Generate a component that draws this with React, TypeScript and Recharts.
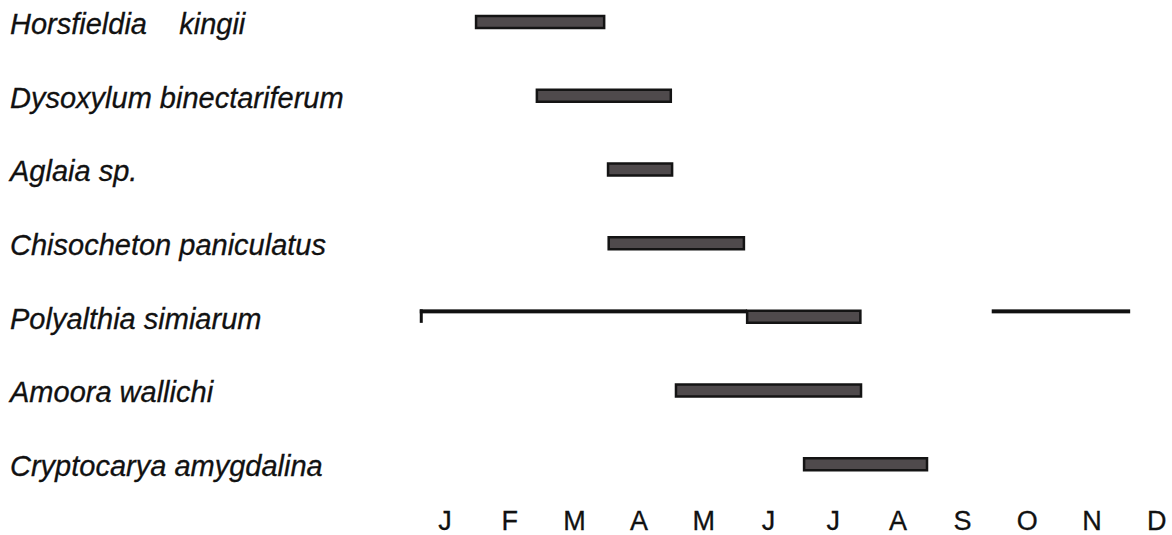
import React from "react";
import { BarChart, Bar, XAxis, YAxis } from "recharts";

const species = [
  "Horsfieldia    kingii",
  "Dysoxylum binectariferum",
  "Aglaia sp.",
  "Chisocheton paniculatus",
  "Polyalthia simiarum",
  "Amoora wallichi",
  "Cryptocarya amygdalina",
];
// month index: 0 = January centre ... 11 = December centre
const flowerStart = [0.48, 1.42, 2.52, 2.53, 4.67, 3.57, 5.55];
const flowerEnd = [2.46, 3.49, 3.51, 4.62, 6.42, 6.43, 7.45];
// thin line segments (Polyalthia simiarum only)
const line1Start: (number | null)[] = [null, null, null, null, -0.39, null, null];
const line1End: (number | null)[] = [null, null, null, null, 4.67, null, null];
const line2Start: (number | null)[] = [null, null, null, null, 8.45, null, null];
const line2End: (number | null)[] = [null, null, null, null, 10.59, null, null];
const monthLabels = ["J", "F", "M", "A", "M", "J", "J", "A", "S", "O", "N", "D"];
const monthTicks = monthLabels.map((_, i) => i);

const data = species.map((name, i) => ({
  name,
  flower: [flowerStart[i], flowerEnd[i]],
  l1: line1Start[i] == null ? null : [line1Start[i], line1End[i]],
  l2: line2Start[i] == null ? null : [line2Start[i], line2End[i]],
}));

const FONT = "'Liberation Sans', Arial, Helvetica, sans-serif";

const SpeciesTick = (props: any) => {
  const { y, payload } = props;
  return (
    <text
      x={10}
      y={y + 12}
      fontSize={29}
      fontStyle="italic"
      fontFamily={FONT}
      fill="#111"
      stroke="#111"
      strokeWidth={0.3}
      xmlSpace="preserve"
      style={{ whiteSpace: "pre" }}
    >
      {payload.value}
    </text>
  );
};

const LineWithTick = (props: any) => {
  const { x, y, width, payload } = props;
  if (!payload || payload.l1 == null || !isFinite(width)) return <g />;
  return (
    <g fill="#111">
      <rect x={x} y={y - 1.5} width={width} height={4} />
      <rect x={x} y={y - 1.5} width={3} height={13.5} />
    </g>
  );
};

const PlainLine = (props: any) => {
  const { x, y, width, payload } = props;
  if (!payload || payload.l2 == null || !isFinite(width)) return <g />;
  return <rect x={x} y={y - 1.5} width={width} height={4} fill="#111" />;
};

export default function App() {
  return (
    <div style={{ position: "absolute", left: 0, top: -15 }}>
      <BarChart
        width={1172}
        height={560}
        data={data}
        layout="vertical"
        margin={{ top: 0, right: 2.36, bottom: 0, left: 12.65 }}
        barCategoryGap={0}
      >
        <XAxis
          type="number"
          domain={[-0.5, 11.2]}
          ticks={monthTicks}
          tickFormatter={(v: number) => monthLabels[v]}
          axisLine={false}
          tickLine={false}
          tickSize={0}
          tickMargin={10}
          height={44}
          allowDataOverflow
          interval={0}
          tick={{ fontSize: 27, fontFamily: FONT, fill: "#111", stroke: "#111", strokeWidth: 0.3 }}
        />
        <YAxis
          yAxisId="main"
          type="category"
          dataKey="name"
          width={400}
          axisLine={false}
          tickLine={false}
          interval={0}
          tick={<SpeciesTick />}
        />
        <YAxis yAxisId="l1" type="category" dataKey="name" hide />
        <YAxis yAxisId="l2" type="category" dataKey="name" hide />
        <Bar
          yAxisId="l1"
          dataKey="l1"
          barSize={12}
          isAnimationActive={false}
          shape={<LineWithTick />}
        />
        <Bar
          yAxisId="l2"
          dataKey="l2"
          barSize={12}
          isAnimationActive={false}
          shape={<PlainLine />}
        />
        <Bar
          yAxisId="main"
          dataKey="flower"
          barSize={12}
          fill="#4f4a4c"
          stroke="#141414"
          strokeWidth={2.5}
          isAnimationActive={false}
        />
      </BarChart>
    </div>
  );
}
